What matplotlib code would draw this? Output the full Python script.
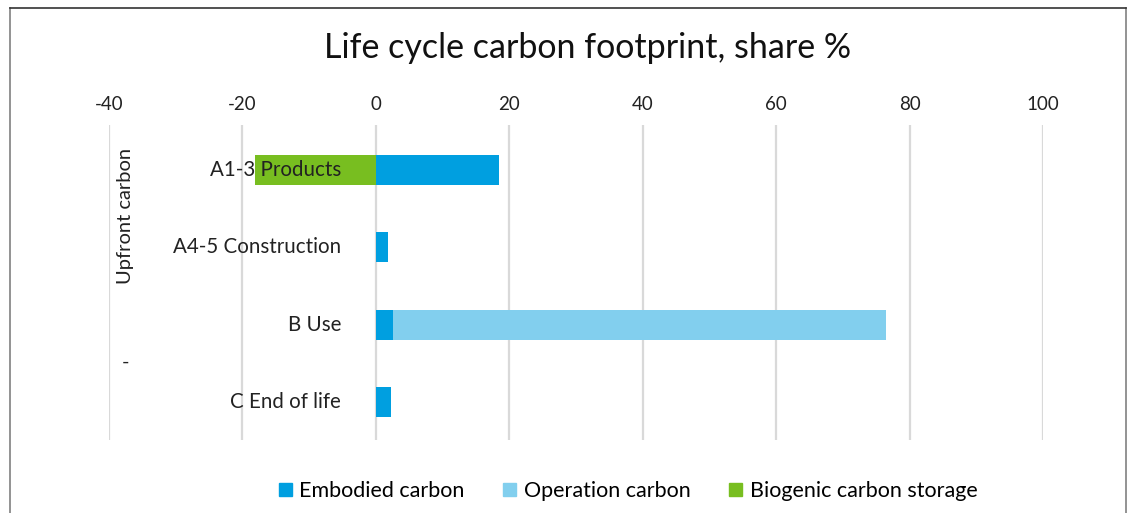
import matplotlib.pyplot as plt
from matplotlib.lines import Line2D
from matplotlib.patches import Patch

categories = ["A1-3 Products", "A4-5 Construction", "B Use", "C End of life"]
embodied = [18.5, 1.8, 2.5, 2.3]
operation = [0.0, 0.0, 74.0, 0.0]
biogenic = [-18.1, 0.0, 0.0, 0.0]
x_ticks = [-40, -20, 0, 20, 40, 60, 80, 100]

C_EMB = "#009FE0"
C_OPE = "#82CFEE"
C_BIO = "#78BE20"
FONT = "Lato"

plt.rcParams["font.family"] = [FONT, "DejaVu Sans"]
plt.rcParams["axes.unicode_minus"] = False

W, H = 1128, 513
fig = plt.figure(figsize=(W / 100, H / 100), dpi=100)
ax = fig.add_axes([109 / W, 1 - 440 / H, (1043 - 109) / W, (440 - 125) / H])

y = list(range(len(categories)))
bh = 0.39
ax.barh(y, embodied, height=bh, color=C_EMB, zorder=3)
ax.barh(y, operation, left=embodied, height=bh, color=C_OPE, zorder=3)
ax.barh(y, biogenic, height=bh, color=C_BIO, zorder=3)

ax.set_xlim(-40, 100)
ax.set_ylim(3.49, -0.58)
ax.set_xticks(x_ticks)
ax.xaxis.tick_top()
ax.tick_params(axis="x", length=0, labelsize=13.5, pad=9, labelcolor="#222222")
ax.set_yticks([])
ax.grid(axis="x", color="#d9d9d9", linewidth=1.6, zorder=0)
for s in ax.spines.values():
    s.set_visible(False)

# category labels sit left of the zero line, on top of the bars
for yi, name in zip(y, categories):
    ax.annotate(name, xy=(0, yi), xytext=(-25, 0), textcoords="offset points",
                ha="right", va="center", fontsize=14.8, color="#222222", zorder=5)

# group labels
ax.text(-37.5, 0.6, "Upfront carbon", rotation=90, ha="center", va="center",
        fontsize=14.5, color="#222222")
ax.text(-37.5, 2.48, "-", ha="center", va="center", fontsize=14.5, color="#222222")

fig.text(0.521, 1 - 48 / H, "Life cycle carbon footprint, share %", ha="center",
         va="center", fontsize=24.5, color="#111111")

handles = [Patch(color=C_EMB), Patch(color=C_OPE), Patch(color=C_BIO)]
fig.legend(handles, ["Embodied carbon", "Operation carbon", "Biogenic carbon storage"],
           loc="center", bbox_to_anchor=(628 / W, 1 - 491 / H), ncol=3, frameon=False,
           fontsize=15.5, handlelength=0.6, handleheight=0.6, handletextpad=0.35,
           columnspacing=1.8)

# outer chart frame (no bottom edge visible)
fig.add_artist(Line2D([9.5 / W, 9.5 / W], [0, 1 - 8 / H], color="#808080", lw=1.2))
fig.add_artist(Line2D([1125.5 / W, 1125.5 / W], [0, 1 - 8 / H], color="#808080", lw=1.2))
fig.add_artist(Line2D([9.5 / W, 1125.5 / W], [1 - 8 / H, 1 - 8 / H], color="#333333", lw=1.2))

fig.savefig("out.png", dpi=100)
